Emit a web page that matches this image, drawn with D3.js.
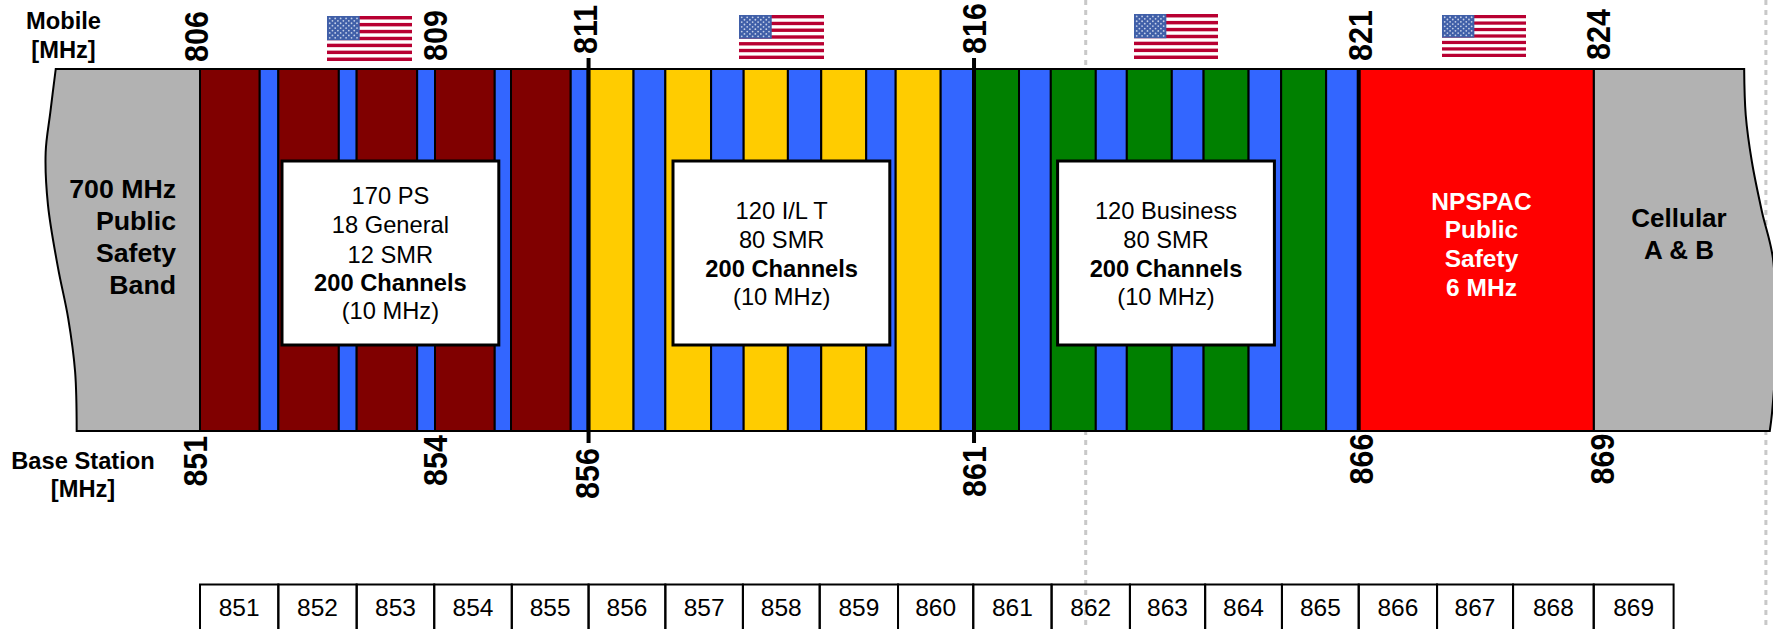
<!DOCTYPE HTML>
<html>
  <head>
    <title>800 MHz band plan</title>
    <style>
      html, body { margin: 0; padding: 0; background: #fff; }
      svg { display: block; }
      text { font-family: "Liberation Sans", Arial, sans-serif; fill: #000; }
    </style>
  </head>
  <body>
    <svg width="1773" height="629"></svg>
    <script src="https://cdn.jsdelivr.net/npm/d3@7"></script>
    <script>
      // Base station frequencies in MHz
      var publicSafetyEdges = [851, 851.77, 852.01, 852.79, 853.02, 853.8, 854.03, 854.8, 855.01, 855.78, 856];
      var industrialEdges = [856, 856.59, 857, 857.59, 858.01, 858.58, 859.01, 859.59, 859.97, 860.55, 860.97];
      var businessEdges = [860.97, 861.56, 861.97, 862.55, 862.95, 863.53, 863.94, 864.52, 864.94, 865.52, 865.94];
      var npspacEdges = [865.94, 868.97];

      var mobileTicks = [806, 809, 811, 816, 821, 824];
      var baseTicks = [851, 854, 856, 861, 866, 869];
      var heavyTicks = [856.01, 860.98];
      var guideTicks = [862.42, 871.19];

      var cellLabels = d3.range(851, 870);
      var cellEdges = [851, 852.01, 853.02, 854.02, 855.02, 856.01, 857, 858, 858.99, 860, 860.97, 861.98,
        862.99, 863.96, 864.95, 865.94, 866.95, 867.93, 868.97, 870];

      // wavy ends of the two neighbouring bands: MHz, fraction of band height
      var leftEdge = [[849.14, 0], [849.07, 0.12], [849.01, 0.23], [849.04, 0.376], [849.17, 0.55], [849.3, 0.688], [849.39, 0.837], [849.41, 1]];
      var rightEdge = [[870.91, 0], [870.93, 0.127], [871.01, 0.257], [871.14, 0.395], [871.28, 0.522], [871.32, 0.77], [871.27, 0.948], [871.24, 1]];

      var poolColors = { publicSafety: '#800000', industrial: '#ffcc00', business: '#008000', npspac: '#ff0000', interleaved: '#3366ff', neighbour: '#b2b2b2' };

      var svg = d3.select('svg');
      var x = d3.scaleLinear().domain([851, 870]).range([200, 1673.6]);
      var y = d3.scaleLinear().domain([0, 1]).range([69, 431]);

      // dashed page guides sit behind everything
      svg.selectAll('line.guide')
          .data(guideTicks)
        .enter().append('line')
          .attr('class', 'guide')
          .attr('x1', function(d) { return x(d); })
          .attr('x2', function(d) { return x(d); })
          .attr('y1', 0)
          .attr('y2', 629)
          .style('stroke', '#c8c8c8')
          .style('stroke-width', 3)
          .style('stroke-dasharray', '5 5');

      // grey bands either side
      var edgeLine = d3.line()
        .x(function(d) { return x(d[0]); })
        .y(function(d) { return y(d[1]); })
        .curve(d3.curveCatmullRom);

      function greyBand(edge, inner) {
        svg.append('path')
          .attr('d', edgeLine(edge) + 'L' + x(inner) + ',' + y(1) + 'L' + x(inner) + ',' + y(0) + 'Z')
          .style('fill', poolColors.neighbour)
          .style('stroke', '#000')
          .style('stroke-width', 2);
      }
      greyBand(leftEdge, 851);
      greyBand(rightEdge, 868.97);

      // channel blocks alternate between the pool colour and the interleaved blue
      function drawPool(edges, pool) {
        var blocks = d3.pairs(edges);
        svg.append('g').selectAll('rect')
            .data(blocks)
          .enter().append('rect')
            .attr('x', function(d) { return x(d[0]); })
            .attr('y', y(0))
            .attr('width', function(d) { return x(d[1]) - x(d[0]); })
            .attr('height', y(1) - y(0))
            .style('fill', function(d, i) { return i % 2 ? poolColors.interleaved : poolColors[pool]; })
            .style('stroke', '#000')
            .style('stroke-width', 2);
      }
      drawPool(publicSafetyEdges, 'publicSafety');
      drawPool(industrialEdges, 'industrial');
      drawPool(businessEdges, 'business');
      drawPool(npspacEdges, 'npspac');

      // the two heavy markers run past the band, the one at 866 does not
      svg.selectAll('line.heavy')
          .data(heavyTicks)
        .enter().append('line')
          .attr('class', 'heavy')
          .attr('x1', function(d) { return x(d); })
          .attr('x2', function(d) { return x(d); })
          .attr('y1', 58)
          .attr('y2', 443)
          .style('stroke', '#000')
          .style('stroke-width', 4);
      svg.append('line')
        .attr('x1', x(865.94)).attr('x2', x(865.94))
        .attr('y1', y(0)).attr('y2', y(1))
        .style('stroke', '#000').style('stroke-width', 4);

      // white text boxes
      var boxes = [
        { left: 282, cx: 390.4, lines: [['170 PS', 203.5], ['18 General', 233], ['12 SMR', 262.5], ['200 Channels', 290.5, true], ['(10 MHz)', 319]] },
        { left: 673, cx: 781.7, lines: [['120 I/L T', 219], ['80 SMR', 247.7], ['200 Channels', 277, true], ['(10 MHz)', 305]] },
        { left: 1057.6, cx: 1166, lines: [['120 Business', 219], ['80 SMR', 247.7], ['200 Channels', 277, true], ['(10 MHz)', 305]] }
      ];
      boxes.forEach(function(b) {
        svg.append('rect')
          .attr('x', b.left).attr('y', 161)
          .attr('width', 216.8).attr('height', 184)
          .style('fill', '#fff').style('stroke', '#000').style('stroke-width', 3);
        svg.append('g').selectAll('text')
            .data(b.lines)
          .enter().append('text')
            .attr('x', b.cx)
            .attr('y', function(d) { return d[1]; })
            .attr('text-anchor', 'middle')
            .style('font-size', '23.7px')
            .style('font-weight', function(d) { return d[2] ? 'bold' : 'normal'; })
            .text(function(d) { return d[0]; });
      });

      function textBlock(rows, px, anchor, size, color) {
        svg.append('g').selectAll('text')
            .data(rows)
          .enter().append('text')
            .attr('x', px)
            .attr('y', function(d) { return d[1]; })
            .attr('text-anchor', anchor)
            .style('font-size', size + 'px')
            .style('font-weight', 'bold')
            .style('fill', color || '#000')
            .text(function(d) { return d[0]; });
      }
      textBlock([['Mobile', 29], ['[MHz]', 58]], 63.5, 'middle', 23.7);
      textBlock([['Base Station', 469], ['[MHz]', 497]], 83, 'middle', 23.7);
      textBlock([['700 MHz', 198], ['Public', 230], ['Safety', 262], ['Band', 294]], 176, 'end', 26.7);
      textBlock([['NPSPAC', 209.5], ['Public', 238.2], ['Safety', 267], ['6 MHz', 295.5]], 1481.5, 'middle', 24.5, '#fff');
      textBlock([['Cellular', 227.4], ['A & B', 258.7]], 1679, 'middle', 26);

      // rotated frequency labels; nudges keep them clear of the markers
      var topNudge = [8, 14.3, 9.2, 10.4, 8.6, 14];
      var topStart = [62, 61, 54, 54, 61, 60];
      var bottomNudge = [6.6, 13.9, 11.2, 10.1, 10, 18];
      var bottomStart = [486.6, 486, 499, 497, 484.5, 484.5];

      // labels in the picture are a little narrower than the font's own width
      function rotatedTicks(ticks, toBase, nudge, start) {
        svg.append('g').selectAll('text')
            .data(ticks)
          .enter().append('text')
            .attr('transform', function(d, i) {
              return 'translate(' + (x(d + toBase) + nudge[i]) + ',' + start[i] + ') rotate(-90) scale(0.91,1)';
            })
            .style('font-size', '33.5px')
            .style('font-weight', 'bold')
            .text(function(d) { return d; });
      }
      rotatedTicks(mobileTicks, 45, topNudge, topStart);
      rotatedTicks(baseTicks, 0, bottomNudge, bottomStart);

      // flags
      svg.append('defs').append('filter').attr('id', 'soft')
        .append('feGaussianBlur').attr('stdDeviation', 0.45);

      function drawFlag(left, top, w, h) {
        var g = svg.append('g').attr('filter', 'url(#soft)');
        var rows = d3.scaleBand().domain(d3.range(13)).range([top, top + h]);
        g.append('rect').attr('x', left).attr('y', top).attr('width', w).attr('height', h).style('fill', '#fff');
        g.selectAll('rect.stripe')
            .data(d3.range(0, 13, 2))
          .enter().append('rect')
            .attr('class', 'stripe')
            .attr('x', left)
            .attr('y', function(d) { return rows(d); })
            .attr('width', w)
            .attr('height', rows.bandwidth())
            .style('fill', '#b80030');
        var cw = w * 0.385, ch = rows.bandwidth() * 7;
        g.append('rect').attr('x', left).attr('y', top).attr('width', cw).attr('height', ch).style('fill', '#3f5fa8');
        var stars = [];
        d3.range(9).forEach(function(r) {
          d3.range(r % 2 ? 5 : 6).forEach(function(c) {
            stars.push([left + (c + (r % 2 ? 1 : 0.5)) * cw / 6, top + (r + 1) * ch / 10]);
          });
        });
        g.selectAll('circle')
            .data(stars)
          .enter().append('circle')
            .attr('cx', function(d) { return d[0]; })
            .attr('cy', function(d) { return d[1]; })
            .attr('r', 0.9)
            .style('fill', '#c6d0e8');
      }
      drawFlag(327, 16, 85, 45);
      drawFlag(739, 15, 85, 44);
      drawFlag(1134, 14, 84, 45);
      drawFlag(1442, 15, 84, 42);

      // channel table along the bottom, runs off the page
      var cells = svg.append('g').selectAll('g')
          .data(cellLabels)
        .enter().append('g');
      cells.append('rect')
        .attr('x', function(d, i) { return x(cellEdges[i]); })
        .attr('y', 584.5)
        .attr('width', function(d, i) { return x(cellEdges[i + 1]) - x(cellEdges[i]); })
        .attr('height', 60)
        .style('fill', 'none')
        .style('stroke', '#000')
        .style('stroke-width', 2);
      cells.append('text')
        .attr('x', function(d, i) { return (x(cellEdges[i]) + x(cellEdges[i + 1])) / 2; })
        .attr('y', 616)
        .attr('text-anchor', 'middle')
        .style('font-size', '24.5px')
        .text(function(d) { return d; });
    </script>
  </body>
</html>
